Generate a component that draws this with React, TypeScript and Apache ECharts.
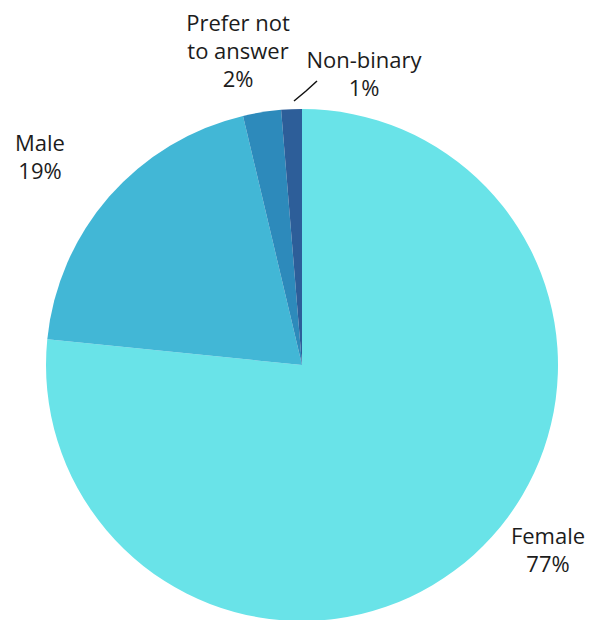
import React, { useEffect, useRef } from "react";
import * as echarts from "echarts";

const categories = ["Female", "Male", "Prefer not\nto answer", "Non-binary"];
const values = [76.6, 19.7, 2.4, 1.3];
const percentLabels = ["77%", "19%", "2%", "1%"];
const colors = ["#69E3E8", "#42B7D6", "#2D8ABB", "#2D5E99"];

// label anchor positions (text centre) in px
const labelPos: [number, number][] = [
  [548, 549],
  [40, 156],
  [238, 50],
  [364, 73],
];

export default function App() {
  const ref = useRef<HTMLDivElement>(null);
  useEffect(() => {
    document.body.style.margin = "0";
    const chart = echarts.init(ref.current!, undefined, { renderer: "svg" });
    chart.setOption({
      animation: false,
      backgroundColor: "#ffffff",
      series: [
        {
          type: "pie",
          center: [302, 365],
          radius: [0, 256],
          startAngle: 90,
          clockwise: true,
          avoidLabelOverlap: false,
          itemStyle: { borderWidth: 0 },
          label: {
            show: true,
            position: "outside",
            fontFamily: "Open Sans",
            fontSize: 22,
            lineHeight: 28,
            color: "#1c1c1c",
            align: "center",
            formatter: (p: any) => `${p.name}\n${percentLabels[p.dataIndex]}`,
          },
          labelLine: { show: false },
          labelLayout: (p: any) => {
            const pos = labelPos[p.dataIndex];
            const out: any = {
              x: pos[0],
              y: pos[1],
              align: "center",
              verticalAlign: "middle",
            };
            if (p.dataIndex === 3) {
              out.labelLinePoints = [
                [294, 101],
                [306, 91],
                [317, 81],
              ];
            }
            return out;
          },
          data: categories.map((c, i) => ({
            name: c,
            value: values[i],
            itemStyle: { color: colors[i] },
            labelLine:
              i === 3
                ? { show: true, length: 10, length2: 10, lineStyle: { color: "#111", width: 1.5 } }
                : { show: false },
          })),
        },
      ],
    });
    return () => chart.dispose();
  }, []);
  return <div ref={ref} style={{ width: 600, height: 620 }} />;
}
